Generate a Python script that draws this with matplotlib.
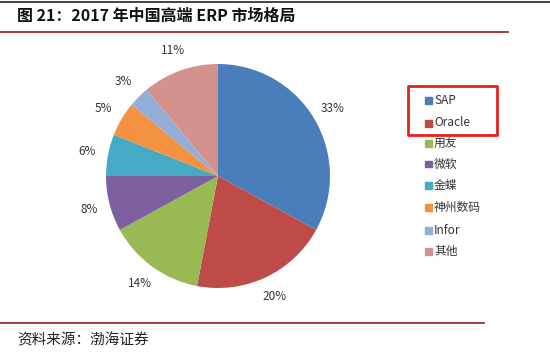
import matplotlib.pyplot as plt
from matplotlib.lines import Line2D
from matplotlib.patches import Rectangle

plt.rcParams['font.family'] = ['Noto Sans CJK SC', 'DejaVu Sans']

# data
vendors = ['SAP', 'Oracle', '用友', '微软', '金蝶', '神州数码', 'Infor', '其他']
shares = [33, 20, 14, 8, 6, 5, 3, 11]
colors = ['#4A7EBB', '#BE4B48', '#98B954', '#7D60A0', '#46AAC5', '#F39240', '#93AFD8', '#D4928F']

W, H = 550, 358
fig = plt.figure(figsize=(W / 100, H / 100), dpi=100)

# title and rules
fig.add_artist(Line2D([0, 1], [1 - 2 / H, 1 - 2 / H], color='#222222', lw=1.2))
fig.text(17 / W, 1 - 16 / H, '图 21：2017 年中国高端 ERP 市场格局', fontsize=11.5,
         fontweight='bold', color='#111111', ha='left', va='center')
fig.add_artist(Line2D([0, 508 / W], [1 - 32 / H, 1 - 32 / H], color='#A52A2A', lw=1.3))
fig.add_artist(Line2D([0, 484 / W], [1 - 323 / H, 1 - 323 / H], color='#A52A2A', lw=1.3))
fig.text(17 / W, 1 - 340 / H, '资料来源：渤海证券', fontsize=10.5, color='#222222',
         ha='left', va='center')

# pie
cx, cy, r = 218, 176, 112
ax = fig.add_axes([(cx - r) / W, (H - cy - r) / H, 2 * r / W, 2 * r / H])
wedges, texts, autotexts = ax.pie(shares, colors=colors, startangle=90, counterclock=False,
                                  autopct='%d%%', pctdistance=1.19, radius=1,
                                  wedgeprops=dict(linewidth=0))
for t in autotexts:
    t.set_fontsize(8.5)
    t.set_color('#333333')
ax.set_xlim(-1, 1)
ax.set_ylim(-1, 1)
ax.set_aspect('equal')
ax.axis('off')

# legend
ys = [101, 123, 143, 164, 185, 207, 230, 251]
for name, c, y in zip(vendors, colors, ys):
    fig.add_artist(Rectangle((425 / W, 1 - (y + 3.5) / H), 7 / W, 7 / H, color=c))
    fig.text(434 / W, 1 - y / H, name, fontsize=8.5, color='#333333', ha='left', va='center')
fig.add_artist(Rectangle((408 / W, 1 - 135 / H), 89 / W, 49 / H, fill=False,
                         edgecolor='#E8201A', lw=2, joinstyle='round'))

fig.savefig('out.png', dpi=100)
